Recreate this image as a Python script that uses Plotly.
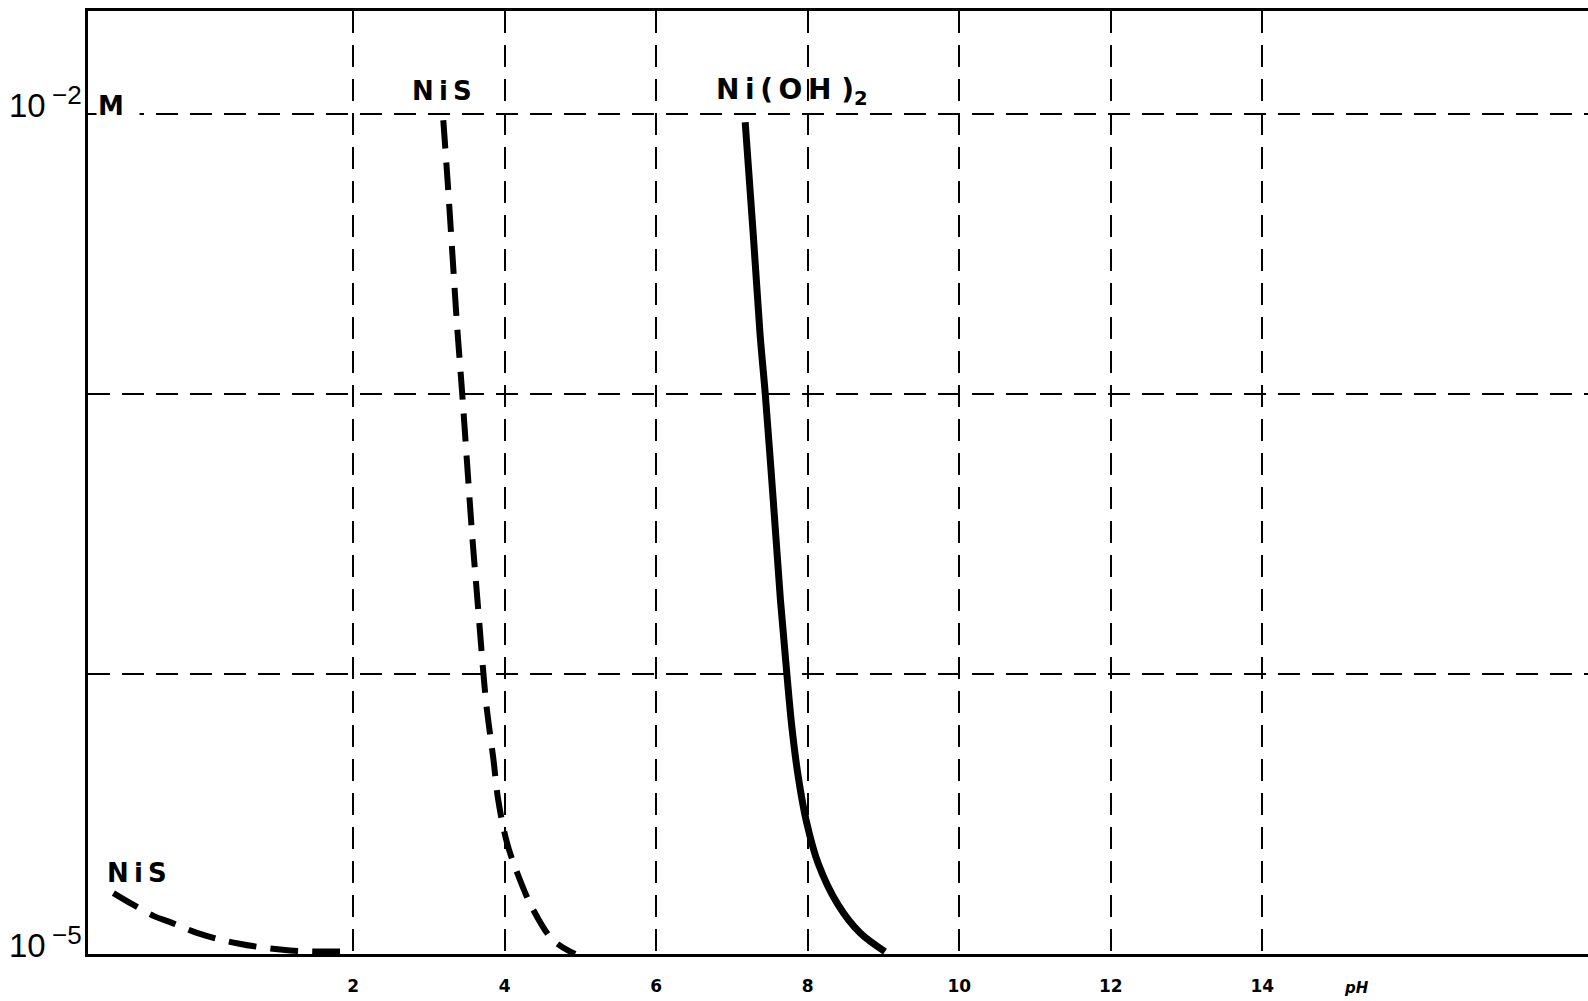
import plotly.graph_objects as go

# ---- data ----
nis_acid_ph = [3.19, 3.25, 3.31, 3.37, 3.44, 3.505, 3.57, 3.645, 3.72, 3.755, 3.80, 3.85, 3.915, 4.03, 4.165, 4.376, 4.64, 4.93]
nis_acid_conc = [9.5e-3, 5.6e-3, 3.16e-3, 1.78e-3, 1.0e-3, 5.6e-4, 3.16e-4, 1.78e-4, 1.0e-4, 7.9e-5, 6.3e-5, 5.0e-5, 3.55e-5, 2.5e-5, 1.95e-5, 1.44e-5, 1.12e-5, 1.0e-5]

nioh2_ph = [7.175, 7.28, 7.37, 7.44, 7.545, 7.64, 7.725, 7.79, 7.875, 7.98, 8.14, 8.40, 8.69, 9.02]
nioh2_conc = [9.35e-3, 3.76e-3, 1.65e-3, 1.0e-3, 4.18e-4, 1.84e-4, 1.0e-4, 6.5e-5, 4.3e-5, 3.0e-5, 2.1e-5, 1.5e-5, 1.19e-5, 1.02e-5]

nis_low_ph = [-1.165, -0.905, -0.614, -0.416, -0.063, 0.482, 1.169, 1.896]
nis_low_conc = [1.65e-5, 1.50e-5, 1.36e-5, 1.30e-5, 1.19e-5, 1.09e-5, 1.03e-5, 1.02e-5]

x_ticks = [2, 4, 6, 8, 10, 12, 14]
x_tick_labels = ["2", "4", "6", "8", "10", "12", "14"]
y_grid = [1e-2, 1e-3, 1e-4]
y_label_exps = [-2, -5]

FONT = "Liberation Sans"
BOLD = "DejaVu Sans"
TS = "\u2009"  # thin space, mimics the wide letter spacing of the original lettering

fig = go.Figure()
fig.add_trace(go.Scatter(x=nis_low_ph, y=nis_low_conc, mode="lines", line_shape="spline",
                         line=dict(color="black", width=6, dash="28px,14px"), showlegend=False))
fig.add_trace(go.Scatter(x=nis_acid_ph, y=nis_acid_conc, mode="lines", line_shape="spline",
                         line=dict(color="black", width=6, dash="28px,14px"), showlegend=False))
fig.add_trace(go.Scatter(x=nioh2_ph, y=nioh2_conc, mode="lines", line_shape="spline",
                         line=dict(color="black", width=7), showlegend=False))

fig.update_xaxes(range=[-1.5, 18.3], tickvals=x_ticks,
                 ticktext=["<b>%s</b>" % t for t in x_tick_labels],
                 tickfont=dict(family=BOLD, size=17, color="black"),
                 ticks="", ticklabelstandoff=15,
                 showgrid=True, gridcolor="black", gridwidth=2, griddash="22px,12px",
                 showline=True, linecolor="black", linewidth=3, mirror=True, zeroline=False)
fig.update_yaxes(type="log", range=[-5, -1.632], tickvals=y_grid, showticklabels=False,
                 ticks="", showgrid=True, gridcolor="black", gridwidth=2, griddash="22px,12px",
                 showline=True, linecolor="black", linewidth=3, mirror=False, zeroline=False)

ann = []
for e in y_label_exps:
    ann.append(dict(x=0, xref="paper", y=e, yref="y", xanchor="right", yanchor="middle",
                    xshift=-40, yshift=9, showarrow=False, text="10",
                    font=dict(family=FONT, size=33, color="black")))
    ann.append(dict(x=0, xref="paper", y=e, yref="y", xanchor="left", yanchor="middle",
                    xshift=-38, yshift=19, showarrow=False, text="\u2212%d" % (-e),
                    font=dict(family=FONT, size=26, color="black")))
ann.append(dict(x=0, xref="paper", y=-2, yref="y", xanchor="left", yanchor="middle",
                xshift=8, yshift=8, showarrow=False, text="<b>M</b>", bgcolor="white",
                width=40, align="left", font=dict(family=BOLD, size=26, color="black")))
ann.append(dict(x=3.175, y=-1.918, xref="x", yref="y", showarrow=False,
                text="<b>N%si%sS</b>" % (TS, TS),
                font=dict(family=BOLD, size=26, color="black")))
ann.append(dict(x=7.79, y=-1.92, xref="x", yref="y", showarrow=False,
                text="<b>N%si%s(%sO%sH )<sub>2</sub></b>" % (TS, TS, TS, TS),
                font=dict(family=BOLD, size=28, color="black")))
ann.append(dict(x=-0.85, y=-4.711, xref="x", yref="y", showarrow=False,
                text="<b>N%si%sS</b>" % (TS, TS),
                font=dict(family=BOLD, size=26, color="black")))
ann.append(dict(x=15.25, y=0, xref="x", yref="paper", yanchor="top", yshift=-23, showarrow=False,
                text="<b><i>pH</i></b>", font=dict(family=BOLD, size=15, color="black")))

fig.update_layout(width=1588, height=1001, margin=dict(l=88, r=0, t=11, b=47),
                  paper_bgcolor="white", plot_bgcolor="white", annotations=ann)
fig.write_html("out.html")
